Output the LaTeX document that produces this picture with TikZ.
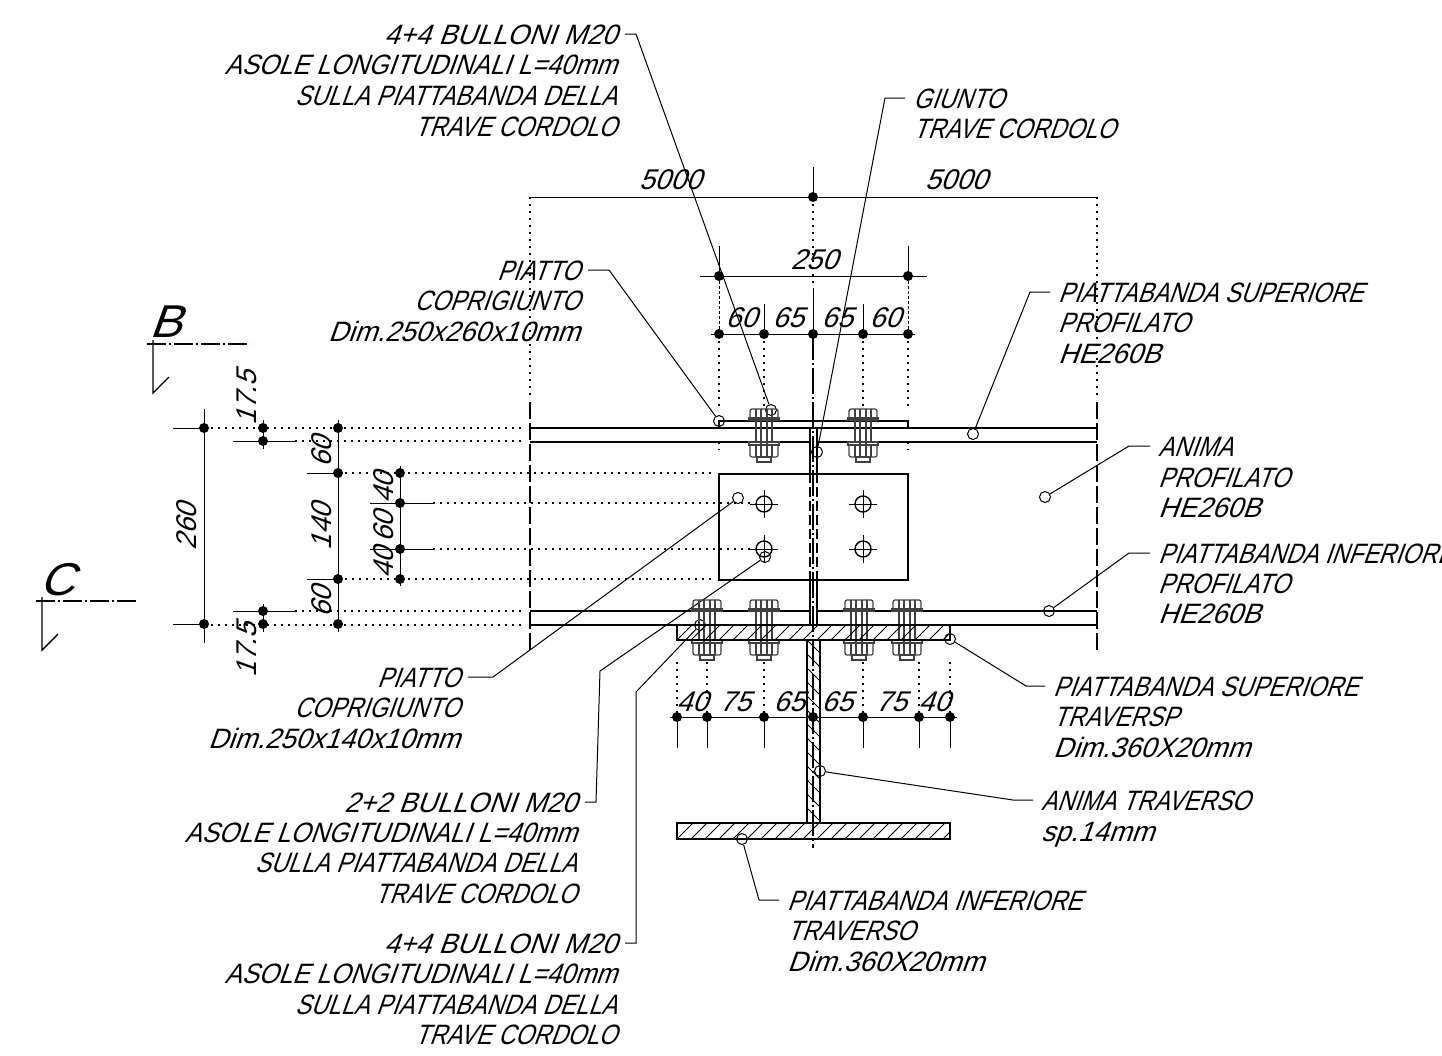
\documentclass[tikz,border=0pt]{standalone}
\usepackage{fontspec}
\newfontfamily\cadfont[FakeSlant=0.36,FakeStretch=0.84]{Liberation Sans}
\newfontfamily\cadfontB[FakeSlant=0.36,FakeStretch=0.905]{Liberation Sans}
\newfontfamily\cadfontC[FakeSlant=0.36,FakeStretch=0.98]{Liberation Sans}
\newfontfamily\cadfontS[FakeSlant=0.36,FakeStretch=1.05]{Liberation Sans}
\begin{document}
\begin{tikzpicture}[x=1pt,y=-1pt]
\tikzset{
  textD/.style={anchor=east, inner xsep=8pt, inner ysep=0pt, text height=20pt, text depth=0pt, font=\cadfont\fontsize{28}{30}\selectfont},
  textG/.style={textD, anchor=west},
  long/.style={font=\cadfontB\fontsize{28}{30}\selectfont},
  chiffre/.style={font=\cadfontC\fontsize{28}{30}\selectfont},
  cote/.style={inner sep=0pt, font=\cadfontC\fontsize{28.5}{30}\selectfont},
  coteV/.style={cote, rotate=90},
  rond/.style={draw, circle, inner sep=0pt, minimum size=11pt, line width=1pt},
  point/.style={fill, circle, inner sep=0pt, minimum size=10pt},
  trait/.style={line width=1.4pt},
  fort/.style={line width=2pt},
  fin/.style={line width=1pt},
  pointille/.style={line width=1.6pt, dash pattern=on 2pt off 5pt},
  tirets/.style={line width=1.3pt, dash pattern=on 17pt off 4pt},
  axe/.style={line width=1.3pt, dash pattern=on 26pt off 3pt on 2pt off 3pt}
}
\useasboundingbox (0,0) rectangle (1442,1055);
% labels
\node[textD, chiffre] (T1) at (625,34) {4+4 BULLONI M20};
\node[textD, long] (T1b) at (625,64) {ASOLE LONGITUDINALI L=40mm};
\node[textD] (T1c) at (625,95) {SULLA PIATTABANDA DELLA};
\node[textD] (T1d) at (625,126) {TRAVE CORDOLO};
\node[textG] (T2) at (905,98) {GIUNTO};
\node[textG] (T2b) at (905,128) {TRAVE CORDOLO};
\node[textD] (T3) at (588,270) {PIATTO};
\node[textD] (T3b) at (588,300) {COPRIGIUNTO};
\node[textD, chiffre] (T3c) at (588,331) {Dim.250x260x10mm};
\node[textG] (T4) at (1050,292) {PIATTABANDA SUPERIORE};
\node[textG] (T4b) at (1050,322) {PROFILATO};
\node[textG, chiffre] (T4c) at (1050,353) {HE260B};
\node[textG] (T5) at (1150,446) {ANIMA};
\node[textG] (T5b) at (1150,477) {PROFILATO};
\node[textG, chiffre] (T5c) at (1150,507) {HE260B};
\node[textG] (T6) at (1150,553) {PIATTABANDA INFERIORE};
\node[textG] (T6b) at (1150,583) {PROFILATO};
\node[textG, chiffre] (T6c) at (1150,613) {HE260B};
\node[textD] (T7) at (468,677) {PIATTO};
\node[textD] (T7b) at (468,707) {COPRIGIUNTO};
\node[textD, chiffre] (T7c) at (468,738) {Dim.250x140x10mm};
\node[textD, chiffre] (T8) at (585,802) {2+2 BULLONI M20};
\node[textD, long] (T8b) at (585,832) {ASOLE LONGITUDINALI L=40mm};
\node[textD] (T8c) at (585,862) {SULLA PIATTABANDA DELLA};
\node[textD] (T8d) at (585,893) {TRAVE CORDOLO};
\node[textD, chiffre] (T9) at (625,943) {4+4 BULLONI M20};
\node[textD, long] (T9b) at (625,973) {ASOLE LONGITUDINALI L=40mm};
\node[textD] (T9c) at (625,1004) {SULLA PIATTABANDA DELLA};
\node[textD] (T9d) at (625,1034) {TRAVE CORDOLO};
\node[textG] (T10) at (1045,686) {PIATTABANDA SUPERIORE};
\node[textG] (T10b) at (1045,716) {TRAVERSP};
\node[textG, chiffre] (T10c) at (1045,747) {Dim.360X20mm};
\node[textG] (T11) at (1033,800) {ANIMA TRAVERSO};
\node[textG, chiffre] (T11b) at (1033,831) {sp.14mm};
\node[textG] (T12) at (779,900) {PIATTABANDA INFERIORE};
\node[textG] (T12b) at (779,930) {TRAVERSO};
\node[textG, chiffre] (T12c) at (779,961) {Dim.360X20mm};
% leader circles
\node[rond] (C1) at (771,410) {};
\node[rond] (C2) at (817,452) {};
\node[rond] (C3) at (719,421) {};
\node[rond] (C4) at (973,434) {};
\node[rond] (C5) at (1045,497) {};
\node[rond] (C6) at (1049,611) {};
\node[rond] (C7) at (738,498) {};
\node[rond] (C8) at (765,557) {};
\node[rond] (C9) at (700,625) {};
\node[rond] (C10) at (950,639) {};
\node[rond] (C11) at (820,771) {};
\node[rond] (C12) at (742,839) {};
% leaders
\draw[fin] (T1.east) -- (636,34) -- (C1);
\draw[fin] (T2.west) -- (885,98) -- (C2);
\draw[fin] (T3.east) -- (609,270) -- (C3);
\draw[fin] (T4.west) -- (1030,292) -- (C4);
\draw[fin] (T5.west) -- (1129,446) -- (C5);
\draw[fin] (T6.west) -- (1129,553) -- (C6);
\draw[fin] (T7.east) -- (493,677) -- (C7);
\draw[fin] (T8.east) -- (596,802) -- (600,671) -- (C8);
\draw[fin] (T9.east) -- (636,943) -- (636,692) -- (C9);
\draw[fin] (T10.west) -- (1026,686) -- (C10);
\draw[fin] (T11.west) -- (1013,800) -- (C11);
\draw[fin] (T12.west) -- (759,900) -- (C12);
% beam flanges and web
\draw[fort] (530,428) -- (1097,428);
\draw[fort] (530,442) -- (810,442);
\draw[fort] (817,442) -- (1097,442);
\draw[fort] (530,611) -- (810,611);
\draw[fort] (817,611) -- (1097,611);
\draw[fort] (530,625) -- (1097,625);
\draw[fort] (810,428) -- (810,473) (817,428) -- (817,473);
\draw[fort] (810,580) -- (810,625) (817,580) -- (817,625);
\draw[fort, dash pattern=on 10pt off 4pt] (810,473) -- (810,580);
\draw[fort, dash pattern=on 10pt off 4pt] (817,473) -- (817,580);
% cover plates
\draw[fort] (719,421) rectangle (908,428);
\draw[fort] (719,474) rectangle (908,580);
% holes
\foreach \x in {764,863} {
  \foreach \y in {504,549} {
    \draw[trait] (\x,\y) circle (8);
    \draw[fin] (\x-14,\y) -- (\x+14,\y) (\x,\y-14) -- (\x,\y+14);
  }
}
% bolts
\foreach \x/\y/\l in {764/420/22,863/420/22,707/611/29,764/611/29,859/611/29,907/611/29} {
  \begin{scope}[shift={(\x,\y)}, line width=1.2pt, draw=black!75]
    \draw[rounded corners=2pt] (-14,-2) -- (-14,-11) -- (14,-11) -- (14,-2);
    \draw (-15,-2) rectangle (15,0);
    \draw (-8,-11) -- (-8,-2) (8,-11) -- (8,-2);
    \draw (-8,0) -- (-8,\l) (8,0) -- (8,\l);
    \draw (-3,-11) -- (-3,\l+16) (3,-11) -- (3,\l+16);
    \draw (-15,\l) rectangle (15,\l+3);
    \draw[rounded corners=2pt] (-14,\l+3) -- (-14,\l+15) -- (14,\l+15) -- (14,\l+3);
    \draw (-8,\l+3) -- (-8,\l+15) (8,\l+3) -- (8,\l+15);
    \draw (-7,\l+15) rectangle (7,\l+20);
  \end{scope}
}
% cross beam
\draw[fort] (677,625) rectangle (950,640);
\draw[fort] (677,823) rectangle (950,839);
\draw[fort] (807,640) -- (807,823) (820,640) -- (820,823);
\begin{scope}
\clip (677,625) rectangle (950,640);
\foreach \x in {663,677,...,950} {\draw[fin] (\x,640) -- (\x+15,625);}
\end{scope}
\begin{scope}
\clip (677,823) rectangle (950,839);
\foreach \x in {663,677,...,950} {\draw[fin] (\x,839) -- (\x+16,823);}
\end{scope}
\begin{scope}
\clip (807,640) rectangle (820,823);
\foreach \y in {626,640,...,823} {\draw[fin] (807,\y) -- (820,\y+13);}
\end{scope}
% axis
\draw[axe] (813,334) -- (813,848);
% dimensions above
\draw[fin] (530,197) -- (1097,197);
\node[point] (D1) at (813,197) {};
\draw[fin] (813,167) -- (813,197);
\draw[pointille] (813,197) -- (813,288);
\draw[pointille] (530,197) -- (530,400);
\draw[pointille] (1097,197) -- (1097,400);
\draw[tirets] (530,402) -- (530,650);
\draw[tirets] (1097,402) -- (1097,650);
\draw[fin] (700,276) -- (927,276);
\node[point] at (719,276) {};
\node[point] at (908,276) {};
\draw[fin] (719,246) -- (719,276) (908,246) -- (908,276);
\draw[fin] (711,334) -- (915,334);
\foreach \x in {719,764,813,863,908} {\node[point] at (\x,334) {};}
\draw[fin] (764,304) -- (764,334) (863,304) -- (863,334) (813,288) -- (813,334);
\draw[fin, dash pattern=on 3pt off 2pt] (719,276) -- (719,334) (908,276) -- (908,334);
\foreach \x in {719,764,863,908} {\draw[pointille] (\x,334) -- (\x,408);}
\draw[pointille] (719,442) -- (719,450) (908,442) -- (908,450);
\node[cote] at (670,180) {5000};
\node[cote] at (956,180) {5000};
\node[cote] at (814,260) {250};
\node[cote] at (741,318) {60};
\node[cote] at (788,318) {65};
\node[cote] at (837,318) {65};
\node[cote] at (885,318) {60};
% dimensions below
\draw[fin] (670,717) -- (957,717);
\foreach \x in {677,707,764,813,863,919,950} {\node[point] at (\x,717) {};}
\foreach \x in {677,707,764,863,919,950} {
  \draw[fin] (\x,717) -- (\x,748);
  \draw[pointille] (\x,662) -- (\x,717);
}
\node[cote] at (692,702) {40};
\node[cote] at (735,702) {75};
\node[cote] at (789,702) {65};
\node[cote] at (837,702) {65};
\node[cote] at (891,702) {75};
\node[cote] at (934,702) {40};
% dimensions left
\draw[fin] (204,409) -- (204,643);
\draw[fin] (173,428) -- (204,428) (173,624) -- (204,624);
\draw[fin] (263,420) -- (263,449) (263,604) -- (263,632);
\draw[fin] (233,441) -- (295,441) (233,611) -- (295,611);
\draw[fin] (338,420) -- (338,632);
\draw[fin] (307,473) -- (338,473) (307,579) -- (338,579);
\draw[fin] (400,466) -- (400,586);
\draw[fin] (370,503) -- (433,503) (370,549) -- (433,549);
\foreach \y in {428,624} {\node[point] at (204,\y) {}; \node[point] at (263,\y) {}; \node[point] at (338,\y) {};}
\foreach \y in {441,611} {\node[point] at (263,\y) {};}
\foreach \y in {473,579} {\node[point] at (338,\y) {}; \node[point] at (400,\y) {};}
\foreach \y in {503,549} {\node[point] at (400,\y) {};}
\draw[pointille] (204,428) -- (525,428) (204,625) -- (525,625);
\draw[pointille] (295,441) -- (525,441) (295,611) -- (525,611);
\draw[pointille] (338,473) -- (714,473) (338,579) -- (714,579);
\draw[pointille] (433,503) -- (750,503) (433,549) -- (750,549);
\node[coteV] at (247,398) {17.5};
\node[coteV] at (247,650) {17.5};
\node[coteV] at (187,527) {260};
\node[coteV] at (322,452) {60};
\node[coteV] at (322,527) {140};
\node[coteV] at (322,602) {60};
\node[coteV] at (384,488) {40};
\node[coteV] at (384,527) {60};
\node[coteV] at (384,563) {40};
% section marks
\draw[trait, dash pattern=on 19pt off 3pt on 2pt off 3pt] (147,344) -- (250,344);
\draw[trait] (153,340) -- (153,393) -- (169,377);
\draw[trait, dash pattern=on 19pt off 3pt on 2pt off 3pt] (36,601) -- (138,601);
\draw[trait] (42,597) -- (42,650) -- (58,634);
\node[inner sep=0pt, font=\cadfontS\fontsize{46}{48}\selectfont] (SB) at (166,322) {B};
\node[inner sep=0pt, font=\cadfontS\fontsize{46}{48}\selectfont] (SC) at (57,580) {C};
\end{tikzpicture}
\end{document}
